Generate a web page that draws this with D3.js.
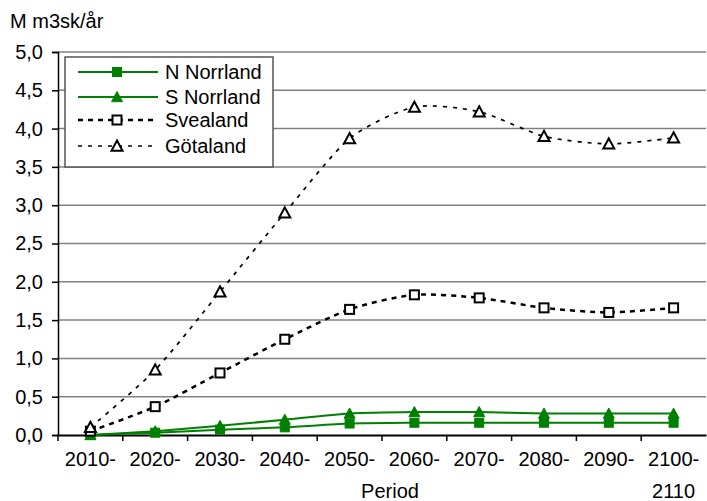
<!DOCTYPE html>
<html>
<head>
<meta charset="utf-8">
<script src="https://cdn.jsdelivr.net/npm/d3@7"></script>
<style>
  body { margin: 0; background: #fff; }
  svg text { font-family: "Liberation Sans", Arial, sans-serif; fill: #000; }
</style>
</head>
<body>
<svg id="chart" width="707" height="501"></svg>
<script>
// Periods (start year of each decade)
const periods = ["2010-", "2020-", "2030-", "2040-", "2050-", "2060-", "2070-", "2080-", "2090-", "2100-"];
// Volumes, million m3sk per year
const nNorrland = [0.00, 0.03, 0.07, 0.10, 0.15, 0.16, 0.16, 0.16, 0.16, 0.16];
const sNorrland = [0.00, 0.05, 0.12, 0.20, 0.28, 0.30, 0.30, 0.28, 0.28, 0.28];
const svealand  = [0.05, 0.37, 0.81, 1.25, 1.64, 1.83, 1.79, 1.66, 1.60, 1.66];
const gotaland  = [0.10, 0.85, 1.87, 2.90, 3.87, 4.28, 4.22, 3.90, 3.80, 3.88];
const yTicks = [0, 0.5, 1, 1.5, 2, 2.5, 3, 3.5, 4, 4.5, 5];
const seriesNames = ["N Norrland", "S Norrland", "Svealand", "Götaland"];

const series = [
  { name: seriesNames[0], values: nNorrland, color: "#008000", width: 2, dash: null, marker: "square", filled: true },
  { name: seriesNames[1], values: sNorrland, color: "#008000", width: 2, dash: null, marker: "triangle", filled: true },
  { name: seriesNames[2], values: svealand,  color: "#000", width: 2.5, dash: "5,5", marker: "square", filled: false },
  { name: seriesNames[3], values: gotaland,  color: "#000", width: 1.7, dash: "4,6", marker: "triangle", filled: false }
];

const svg = d3.select("#chart");
const plotLeft = 58, plotRight = 706, plotTop = 52, plotBottom = 435;

const x = d3.scaleBand().domain(periods).range([plotLeft, plotRight]);
const y = d3.scaleLinear().domain([0, 5]).range([plotBottom, plotTop]);
const cx = p => x(p) + x.bandwidth() / 2;

// Gridlines
svg.append("g").selectAll("line").data(yTicks.filter(d => d > 0)).join("line")
  .attr("x1", plotLeft).attr("x2", plotRight)
  .attr("y1", d => y(d)).attr("y2", d => y(d))
  .attr("stroke", "#808080").attr("stroke-width", 1.5);

// Y axis
const yAxis = svg.append("g").attr("transform", `translate(${plotLeft},0)`)
  .call(d3.axisLeft(y).tickValues(yTicks).tickSize(6).tickPadding(9)
    .tickFormat(d => d3.format(".1f")(d).replace(".", ",")));
yAxis.select(".domain").attr("stroke", "#000").attr("stroke-width", 1.5);
yAxis.selectAll(".tick line").attr("stroke", "#000").attr("stroke-width", 1.5);
yAxis.selectAll(".tick text").attr("font-size", 20).attr("dy", "0.32em");

// X axis
const xAxis = svg.append("g").attr("transform", `translate(0,${plotBottom})`)
  .call(d3.axisBottom(x).tickSize(0).tickPadding(17));
xAxis.select(".domain").attr("stroke", "#000").attr("stroke-width", 2);
xAxis.selectAll(".tick text").attr("font-size", 20).attr("dy", "0.71em");
// Tick marks at band boundaries
svg.append("g").selectAll("line").data(periods).join("line")
  .attr("x1", d => x(d)).attr("x2", d => x(d))
  .attr("y1", plotBottom).attr("y2", plotBottom + 6)
  .attr("stroke", "#000").attr("stroke-width", 1.5);

svg.append("text").attr("x", cx(periods[9])).attr("y", 498)
  .attr("text-anchor", "middle").attr("font-size", 20).text("2110");
svg.append("text").attr("x", 390).attr("y", 498)
  .attr("text-anchor", "middle").attr("font-size", 20).text("Period");
svg.append("text").attr("x", 10).attr("y", 28)
  .attr("font-size", 20).text("M m3sk/år");

// Marker drawing
function drawMarker(g, s, px, py, scale) {
  const fill = s.filled ? s.color : "#fff";
  if (s.marker === "square") {
    const h = 4.5 * scale;
    g.append("rect").attr("x", px - h).attr("y", py - h)
      .attr("width", 2 * h).attr("height", 2 * h)
      .attr("fill", fill).attr("stroke", s.color).attr("stroke-width", s.filled ? 1 : 2);
  } else {
    const h = 5.5 * scale;
    g.append("path")
      .attr("d", `M${px},${py - h}L${px + h},${py + h * 0.85}L${px - h},${py + h * 0.85}Z`)
      .attr("fill", fill).attr("stroke", s.color).attr("stroke-width", s.filled ? 1 : 2);
  }
}

const line = d3.line().x((d, i) => cx(periods[i])).y(d => y(d)).curve(d3.curveCardinal.tension(0.25));

series.forEach(s => {
  const g = svg.append("g");
  g.append("path").datum(s.values).attr("d", line)
    .attr("fill", "none").attr("stroke", s.color).attr("stroke-width", s.width)
    .attr("stroke-dasharray", s.dash);
  s.values.forEach((v, i) => drawMarker(g, s, cx(periods[i]), y(v), 1));
});

// Legend
const lg = svg.append("g");
lg.append("rect").attr("x", 65).attr("y", 57).attr("width", 208).attr("height", 110)
  .attr("fill", "#fff").attr("stroke", "#555").attr("stroke-width", 1.5);
const rowsY = [72, 97, 120, 146];
series.forEach((s, i) => {
  const ry = rowsY[i];
  lg.append("line").attr("x1", 78).attr("x2", 158).attr("y1", ry).attr("y2", ry)
    .attr("stroke", s.color).attr("stroke-width", s.width).attr("stroke-dasharray", s.dash);
  drawMarker(lg, s, 117, ry, 1);
  lg.append("text").attr("x", 165).attr("y", ry).attr("dy", "0.35em")
    .attr("font-size", 20).text(s.name);
});
</script>
</body>
</html>
